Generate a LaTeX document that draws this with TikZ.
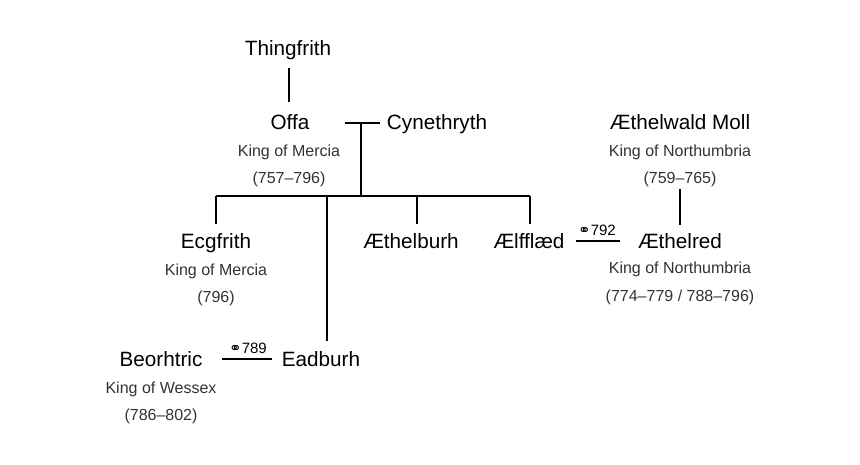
\documentclass[tikz,border=0pt]{standalone}
\usepackage{fontspec}
\setmainfont{Liberation Sans}
\newfontfamily\symfont{DejaVu Sans}
\begin{document}
\begin{tikzpicture}[x=1pt,y=-1pt,
  nm/.style={font=\fontsize{20.7}{22}\selectfont, inner sep=0pt, anchor=base},
  sb/.style={font=\fontsize{16}{18}\selectfont, text=black!80, inner sep=0pt, anchor=base},
  ln/.style={line width=1.3pt},
  ml/.style={font=\fontsize{15}{17}\selectfont, inner sep=0pt, anchor=base}]
\path[use as bounding box, fill=white] (0,0) rectangle (860,464);
\node[nm] (thing) at (288,55) {Thingfrith};
\node[nm] (offa) at (290,129) {Offa};
\node[sb] (offa1) at (289,156) {King of Mercia};
\node[sb] (offa2) at (289,183) {(757–796)};
\node[nm] (cyn) at (437,129) {Cynethryth};
\node[nm] (moll) at (680,129) {Æthelwald Moll};
\node[sb] (moll1) at (680,156) {King of Northumbria};
\node[sb] (moll2) at (680,183) {(759–765)};
\node[nm] (ecg) at (216,248) {Ecgfrith};
\node[sb] (ecg1) at (216,275) {King of Mercia};
\node[sb] (ecg2) at (216,302) {(796)};
\node[nm] (aeb) at (411,248) {Æthelburh};
\node[nm] (aelf) at (529,248) {Ælfflæd};
\node[nm] (aer) at (680,248) {Æthelred};
\node[sb] (aer1) at (680,273) {King of Northumbria};
\node[sb] (aer2) at (680,301) {(774–779 / 788–796)};
\node[nm] (beo) at (161,366) {Beorhtric};
\node[sb] (beo1) at (161,393) {King of Wessex};
\node[sb] (beo2) at (161,420) {(786–802)};
\node[nm] (ead) at (321,366) {Eadburh};
\coordinate (t1) at (289,68); \coordinate (t2) at (289,102);
\draw[ln] (t1) -- (t2);
\coordinate (m1a) at (345,123); \coordinate (m1b) at (380,123); \coordinate (m1c) at (361,123);
\coordinate (bar) at (361,196);
\draw[ln] (m1a) -- (m1b);
\draw[ln] (m1c) -- (bar);
\coordinate (bl) at (216,196); \coordinate (br) at (530,196);
\draw[ln] (bl) -- (br);
\draw[ln] (bl) -- (216,224);
\draw[ln] (327,196) -- (327,341);
\draw[ln] (417,196) -- (417,224);
\draw[ln] (br) -- (530,224);
\draw[ln] (680,189) -- (680,225);
\coordinate (m2a) at (576,241); \coordinate (m2b) at (620,241);
\draw[ln] (m2a) -- (m2b);
\node[ml] (l792) at (597,235) {{\symfont ⚭}792};
\coordinate (m3a) at (222,359); \coordinate (m3b) at (272,359);
\draw[ln] (m3a) -- (m3b);
\node[ml] (l789) at (248,353) {{\symfont ⚭}789};
\end{tikzpicture}
\end{document}
